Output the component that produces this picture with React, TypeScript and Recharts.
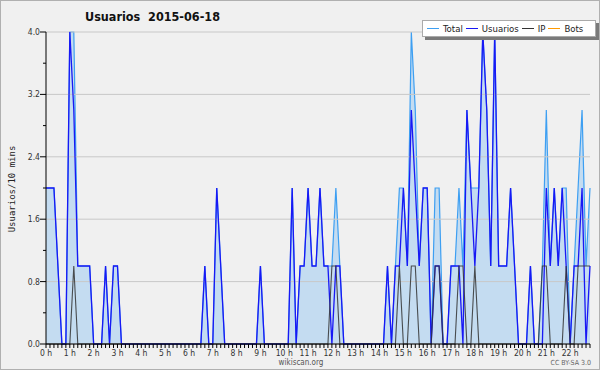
import {
  ComposedChart,
  Area,
  Line,
  XAxis,
  YAxis,
  ReferenceLine,
} from "recharts";

// one point every 10 minutes, 0:00 -> 22:50
const usuarios = [
  2, 2, 2, 1, 0, 0, 4, 3, 1, 1, 1, 1,
  0, 0, 0, 1, 0, 1, 1, 0, 0, 0, 0, 0,
  0, 0, 0, 0, 0, 0, 0, 0, 0, 0, 0, 0,
  0, 0, 0, 0, 1, 0, 0, 2, 1, 0, 0, 0,
  0, 0, 0, 0, 0, 0, 1, 0, 0, 0, 0, 0,
  0, 0, 2, 0, 1, 1, 2, 1, 1, 2, 1, 1,
  0, 1, 1, 0, 0, 0, 0, 0, 0, 0, 0, 0,
  0, 0, 1, 0, 1, 1, 2, 1, 3, 2, 1, 2,
  2, 0, 1, 1, 0, 0, 1, 1, 1, 0, 3, 2,
  1, 2, 4, 3, 1, 4, 1, 1, 1, 2, 1, 0,
  0, 0, 1, 0, 0, 0, 2, 1, 2, 1, 2, 1,
  0, 1, 1, 2, 0, 1,
];

const ip = [
  0, 0, 0, 0, 0, 0, 0, 1, 0, 0, 0, 0,
  0, 0, 0, 0, 0, 0, 0, 0, 0, 0, 0, 0,
  0, 0, 0, 0, 0, 0, 0, 0, 0, 0, 0, 0,
  0, 0, 0, 0, 0, 0, 0, 0, 0, 0, 0, 0,
  0, 0, 0, 0, 0, 0, 0, 0, 0, 0, 0, 0,
  0, 0, 0, 0, 0, 0, 0, 0, 0, 0, 0, 0,
  1, 1, 0, 0, 0, 0, 0, 0, 0, 0, 0, 0,
  0, 0, 0, 0, 0, 1, 0, 0, 1, 1, 0, 0,
  0, 0, 1, 1, 0, 0, 0, 0, 1, 1, 0, 0,
  1, 0, 0, 0, 0, 0, 0, 0, 0, 0, 0, 0,
  0, 0, 0, 0, 0, 1, 1, 0, 0, 0, 0, 1,
  0, 0, 1, 1, 1, 1,
];

const total = [
  2, 2, 2, 1, 0, 0, 4, 4, 1, 1, 1, 1,
  0, 0, 0, 1, 0, 1, 1, 0, 0, 0, 0, 0,
  0, 0, 0, 0, 0, 0, 0, 0, 0, 0, 0, 0,
  0, 0, 0, 0, 1, 0, 0, 2, 1, 0, 0, 0,
  0, 0, 0, 0, 0, 0, 1, 0, 0, 0, 0, 0,
  0, 0, 2, 0, 1, 1, 2, 1, 1, 2, 1, 1,
  1, 2, 1, 0, 0, 0, 0, 0, 0, 0, 0, 0,
  0, 0, 1, 0, 1, 2, 2, 1, 4, 3, 1, 2,
  2, 0, 2, 2, 0, 0, 1, 1, 2, 1, 3, 2,
  2, 2, 4, 3, 1, 4, 1, 1, 1, 2, 1, 0,
  0, 0, 1, 0, 0, 1, 3, 1, 2, 1, 2, 2,
  0, 1, 2, 3, 1, 2,
];

const hourLabels = [
  "0 h", "1 h", "2 h", "3 h", "4 h", "5 h", "6 h", "7 h", "8 h", "9 h", "10 h", "11 h",
  "12 h", "13 h", "14 h", "15 h", "16 h", "17 h", "18 h", "19 h", "20 h", "21 h", "22 h",
];

const yTicks = [0, 0.4, 0.8, 1.2, 1.6, 2, 2.4, 2.8, 3.2, 3.6, 4];
const yLabeled = [0, 0.8, 1.6, 2.4, 3.2, 4];

const legendItems = [
  { name: "Total", color: "#3d9ff2" },
  { name: "Usuarios", color: "#1818f5" },
  { name: "IP", color: "#333333" },
  { name: "Bots", color: "#ff9a00" },
];

const data = usuarios.map((u, i) => ({
  t: i,
  total: total[i],
  usuarios: u,
  ip: ip[i],
}));

const xTicks = data.map((d) => d.t);

const FONT = "'DejaVu Sans Condensed', 'DejaVu Sans', sans-serif";

const XTick = (props: any) => {
  const { x, y, payload } = props;
  const v = payload.value;
  return (
    <g>
      <line x1={x} x2={x} y1={y} y2={y + 4} stroke="#000" />
      {v % 6 === 0 && (
        <text x={x} y={y + 12} textAnchor="middle" fontSize={8.5} fill="#333" fontFamily={FONT}>
          {hourLabels[v / 6]}
        </text>
      )}
    </g>
  );
};

const YTick = (props: any) => {
  const { x, y, payload } = props;
  const major = yLabeled.includes(payload.value);
  return (
    <g>
      <line x1={x - (major ? 6 : 3)} x2={x} y1={y} y2={y} stroke="#000" />
      {major && (
        <text x={x - 6} y={y + 3} textAnchor="end" fontSize={8.5} fill="#333" fontFamily={FONT}>
          {payload.value.toFixed(1)}
        </text>
      )}
    </g>
  );
};

export default function App() {
  return (
    <div
      style={{
        position: "relative",
        width: 600,
        height: 370,
        background: "#f0f0f0",
        boxSizing: "border-box",
        border: "1px solid #b0b0b0",
        overflow: "hidden",
      }}
    >
      <style>{`body{margin:0}`}</style>
      <ComposedChart
        width={598}
        height={368}
        data={data}
        margin={{ top: 31, right: 9, bottom: 0, left: 0 }}
        style={{ position: "absolute", left: 0, top: 0 }}
      >
        {yLabeled.map((v) => (
          <ReferenceLine key={v} y={v} stroke="#c8c8c8" strokeWidth={1} />
        ))}
        <XAxis
          dataKey="t"
          type="number"
          domain={[0, 137]}
          ticks={xTicks}
          interval={0}
          height={25}
          tickSize={0}
          tickMargin={0}
          tickLine={false}
          tick={<XTick />}
          axisLine={{ stroke: "#000" }}
        />
        <YAxis
          type="number"
          domain={[0, 4]}
          ticks={yTicks}
          interval={0}
          width={45}
          tickSize={0}
          tickMargin={0}
          tickLine={false}
          tick={<YTick />}
          axisLine={{ stroke: "#000" }}
        />
        <Area
          type="linear"
          dataKey="total"
          stroke="#3d9ff2"
          strokeWidth={1.2}
          fill="#c4dcf1"
          fillOpacity={1}
          isAnimationActive={false}
          dot={false}
          activeDot={false}
        />
        <Line
          type="linear"
          dataKey="usuarios"
          stroke="#1818f5"
          strokeWidth={1.3}
          dot={false}
          activeDot={false}
          isAnimationActive={false}
        />
        <Line
          type="linear"
          dataKey="ip"
          stroke="#333"
          strokeOpacity={0.85}
          strokeWidth={1.1}
          dot={false}
          activeDot={false}
          isAnimationActive={false}
        />
      </ComposedChart>

      <div
        style={{
          position: "absolute",
          left: 84,
          top: 9,
          fontFamily: FONT,
          fontWeight: "bold",
          fontSize: 12.5,
          color: "#111",
          whiteSpace: "pre",
          lineHeight: "14px",
        }}
      >
        {"Usuarios  2015-06-18"}
      </div>

      <div
        style={{
          position: "absolute",
          left: 2,
          top: 188,
          width: 0,
          height: 0,
        }}
      >
        <div
          style={{
            position: "absolute",
            transform: "translate(-50%, -50%) rotate(-90deg)",
            left: 9,
            top: 0,
            fontFamily: "'DejaVu Sans Mono', monospace",
            fontSize: 9,
            color: "#222",
            whiteSpace: "nowrap",
          }}
        >
          Usuarios/10 mins
        </div>
      </div>

      <div
        style={{
          position: "absolute",
          left: 421,
          top: 19,
          width: 168,
          height: 15,
          background: "#fff",
          border: "1px solid #aaa",
          boxShadow: "3px 3px 0 #7a7a7a",
          display: "flex",
          alignItems: "center",
          paddingLeft: 4,
          boxSizing: "content-box",
          fontFamily: FONT,
          fontSize: 9.5,
          color: "#222",
        }}
      >
        {legendItems.map((it) => (
          <span key={it.name} style={{ display: "flex", alignItems: "center", marginRight: 3 }}>
            <span
              style={{
                display: "inline-block",
                width: 12,
                height: 1,
                background: it.color,
                marginRight: 4,
              }}
            />
            {it.name}
          </span>
        ))}
      </div>

      <div
        style={{
          position: "absolute",
          left: 0,
          width: 600,
          top: 357,
          textAlign: "center",
          fontFamily: FONT,
          fontSize: 8,
          lineHeight: "10px",
          color: "#555",
        }}
      >
        wikiscan.org
      </div>
      <div
        style={{
          position: "absolute",
          right: 8,
          top: 358,
          fontFamily: FONT,
          fontSize: 7,
          lineHeight: "9px",
          color: "#666",
        }}
      >
        CC BY-SA 3.0
      </div>
    </div>
  );
}
